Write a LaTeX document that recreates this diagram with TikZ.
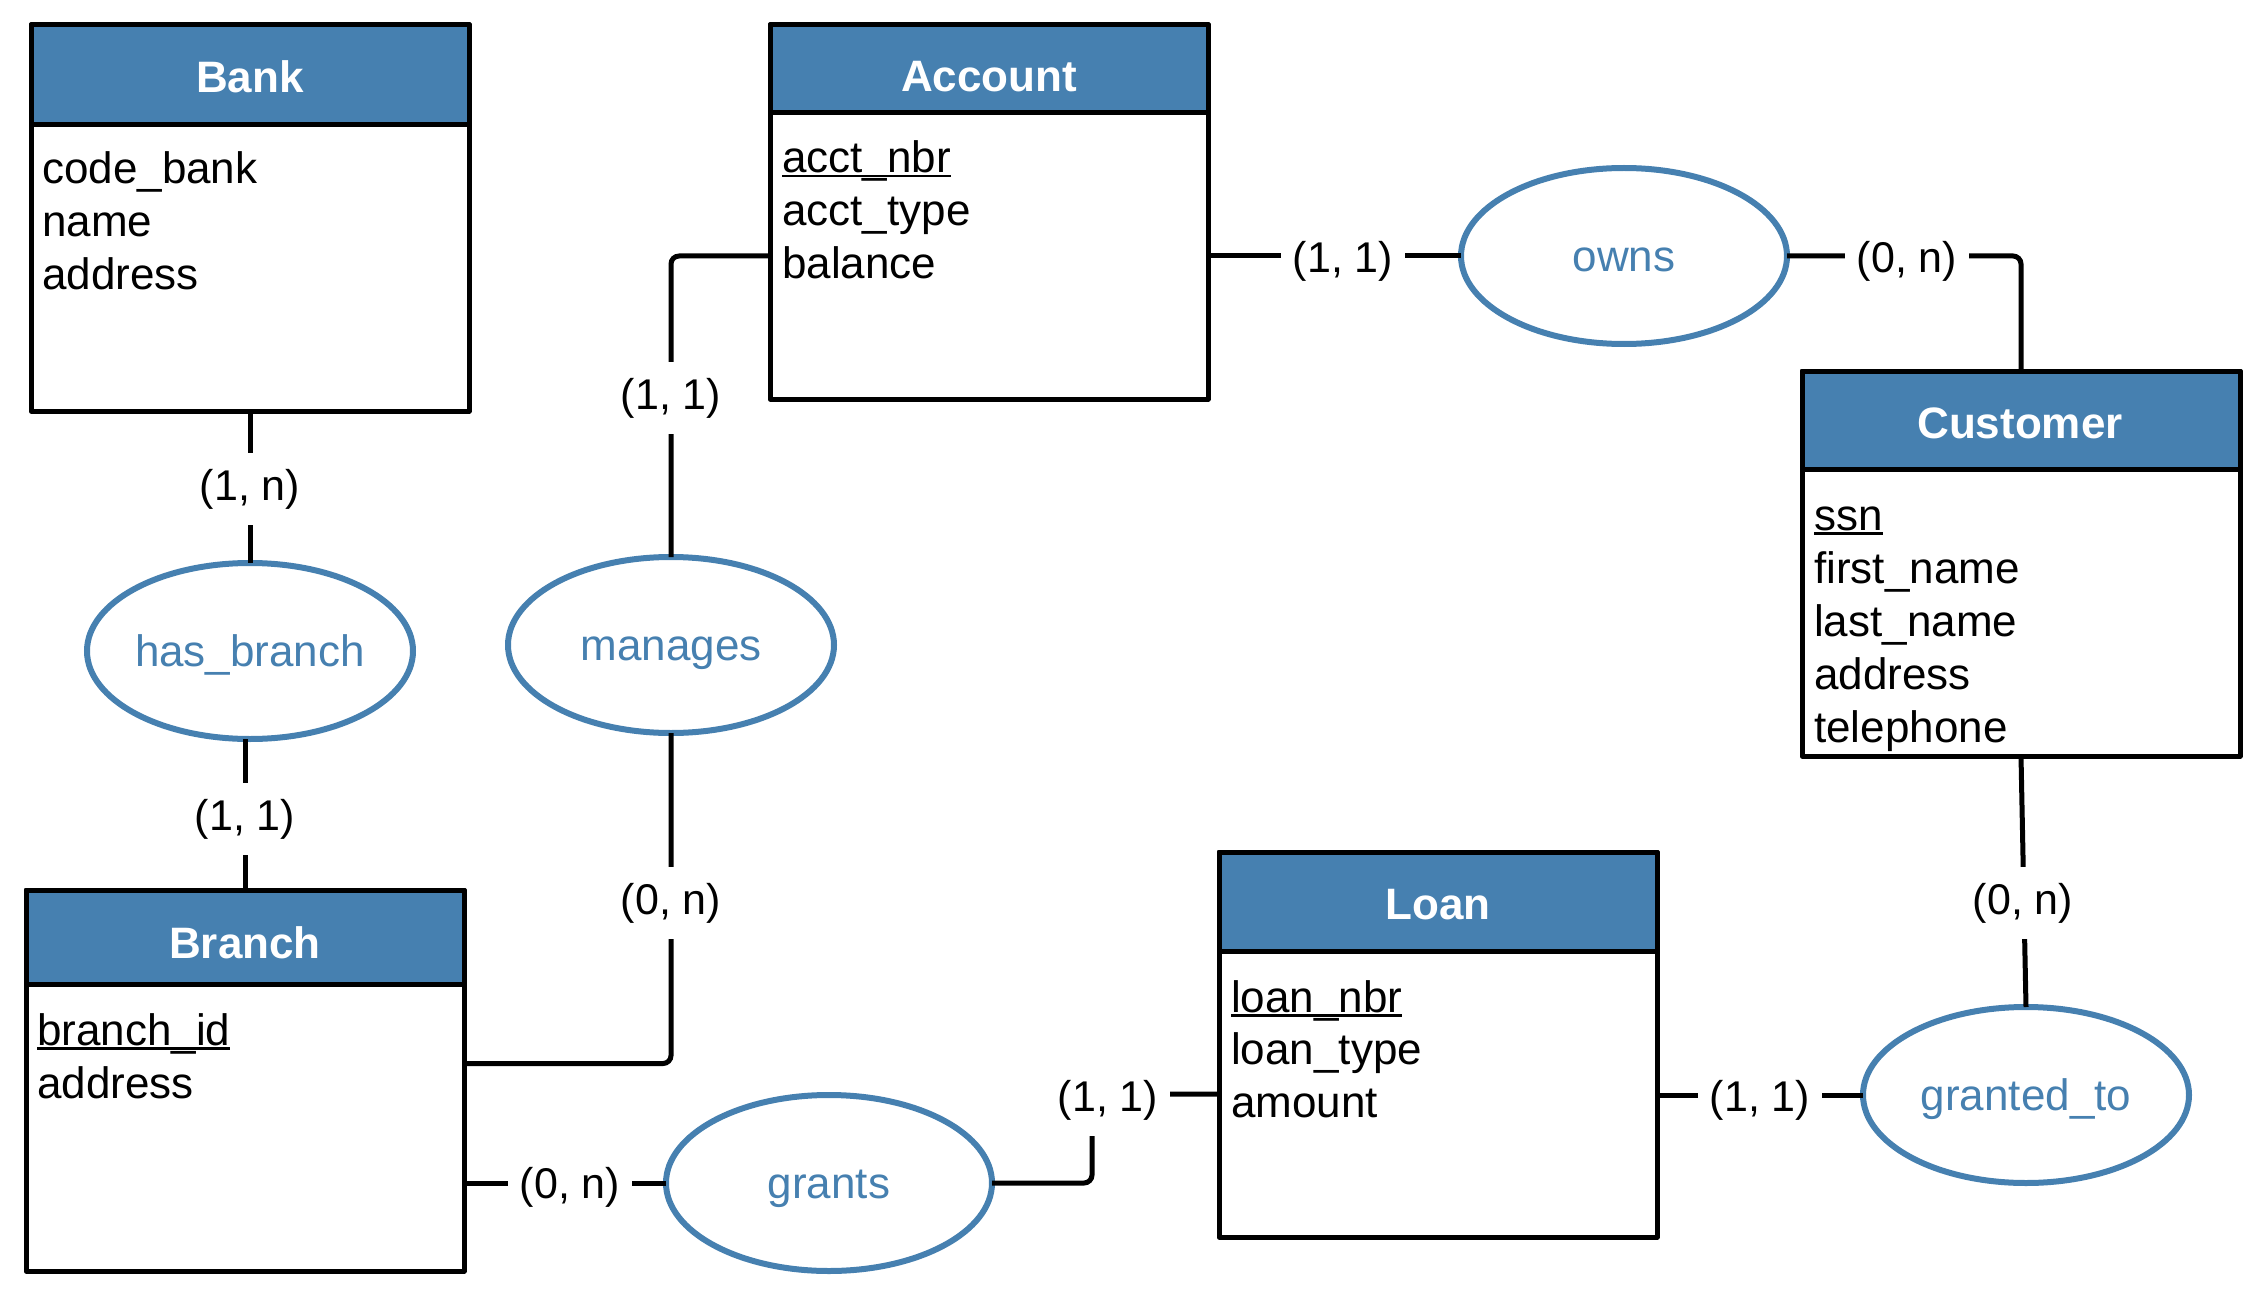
\documentclass[tikz,border=0pt]{standalone}
\usepackage{fontspec}
\setmainfont{Liberation Sans}
\usetikzlibrary{shapes.geometric}
\definecolor{erblue}{RGB}{70,128,176}
\newcommand\keyattr[1]{\setbox0\hbox{#1}\rlap{\rule[-4.5pt]{\wd0}{2.5pt}}\box0}
\begin{document}
\begin{tikzpicture}[x=1pt,y=-1pt,
  entbox/.style={draw=black,line width=5pt,line join=round,outer sep=0pt,inner sep=0pt,minimum width=438pt,anchor=north west},
  headbox/.style={entbox,fill=erblue},
  titletext/.style={text=white,font=\bfseries\fontsize{44}{53}\selectfont,anchor=base,inner sep=0pt},
  attr/.style={font=\fontsize{44}{53}\selectfont,anchor=base west,inner sep=0pt},
  rel/.style={ellipse,draw=erblue,line width=6pt,minimum width=326pt,minimum height=176pt,outer sep=0pt,inner sep=0pt,text=erblue,font=\fontsize{44}{53}\selectfont,text height=37pt,text depth=6pt},
  conn/.style={draw=black,line width=5pt,rounded corners=8pt},
  card/.style={fill=white,inner xsep=12pt,inner ysep=16pt,font=\fontsize{43}{52}\selectfont}
]
\useasboundingbox (0,0) rectangle (2268,1297);

% ---------- Bank
\node[headbox,minimum height=100pt] (bank-h) at (31,25) {};
\node[entbox,minimum height=386pt] (bank) at (31,25) {};
\node[titletext] (bank-t) at (250,93) {Bank};
\node[attr] (bank-a1) at (42,184) {code\_bank};
\node[attr] (bank-a2) at (42,237) {name};
\node[attr] (bank-a3) at (42,290) {address};

% ---------- Account
\node[headbox,minimum height=88pt] (account-h) at (770,25) {};
\node[entbox,minimum height=374pt] (account) at (770,25) {};
\node[titletext] (account-t) at (989,92) {Account};
\node[attr] (account-a1) at (782,173) {\keyattr{acct\_nbr}};
\node[attr] (account-a2) at (782,226) {acct\_type};
\node[attr] (account-a3) at (782,279) {balance};

% ---------- Customer
\node[headbox,minimum height=98pt] (customer-h) at (1802,371) {};
\node[entbox,minimum height=385pt] (customer) at (1802,371) {};
\node[titletext] (customer-t) at (2020,438) {Customer};
\node[attr] (customer-a1) at (1814,530) {\keyattr{ssn}};
\node[attr] (customer-a2) at (1814,583) {first\_name};
\node[attr] (customer-a3) at (1814,636) {last\_name};
\node[attr] (customer-a4) at (1814,689) {address};
\node[attr] (customer-a5) at (1814,742) {telephone};

% ---------- Branch
\node[headbox,minimum height=94pt] (branch-h) at (26,890) {};
\node[entbox,minimum height=381pt] (branch) at (26,890) {};
\node[titletext] (branch-t) at (245,958) {Branch};
\node[attr] (branch-a1) at (37,1045) {\keyattr{branch\_id}};
\node[attr] (branch-a2) at (37,1098) {address};

% ---------- Loan
\node[headbox,minimum height=99pt] (loan-h) at (1219,852) {};
\node[entbox,minimum height=385pt] (loan) at (1219,852) {};
\node[titletext] (loan-t) at (1438,919) {Loan};
\node[attr] (loan-a1) at (1231,1012) {\keyattr{loan\_nbr}};
\node[attr] (loan-a2) at (1231,1064) {loan\_type};
\node[attr] (loan-a3) at (1231,1117) {amount};

% ---------- Relationships
\node[rel] (hasbranch) at (250,651) {has\_branch};
\node[rel] (manages) at (671,645) {manages};
\node[rel] (owns) at (1624,256) {owns};
\node[rel] (grants) at (829,1183) {grants};
\node[rel] (grantedto) at (2026,1095) {granted\_to};

% ---------- Connectors
\coordinate (gl) at (1092,1094);
\draw[conn] (bank.south) -- (hasbranch.north);
\draw[conn] (branch.north |- hasbranch.south) -- (branch.north);
\draw[conn] (account.west |- owns.west) -| (manages.north);
\draw[conn] (manages.south) |- ([yshift=17pt]branch.east);
\draw[conn] (account.east |- owns.west) -- (owns.west);
\draw[conn] (owns.east) -| (customer.north);
\draw[conn] (customer.south) -- (grantedto.north);
\draw[conn] (loan.east |- grantedto.west) -- (grantedto.west);
\draw[conn] (branch.east |- grants.west) -- (grants.west);
\draw[conn] (grants.east) -| (gl) -- (loan.west |- gl);

% ---------- Cardinalities
\node[card] (c1) at (250,489) {(1, n)};
\node[card] (c2) at (245,819) {(1, 1)};
\node[card] (c3) at (671,398) {(1, 1)};
\node[card] (c4) at (671,903) {(0, n)};
\node[card] (c5) at (1343,261) {(1, 1)};
\node[card] (c6) at (1907,261) {(0, n)};
\node[card] (c7) at (2023,903) {(0, n)};
\node[card] (c8) at (1760,1100) {(1, 1)};
\node[card] (c9) at (570,1187) {(0, n)};
\node[card] (c10) at (1108,1100) {(1, 1)};
\end{tikzpicture}
\end{document}
